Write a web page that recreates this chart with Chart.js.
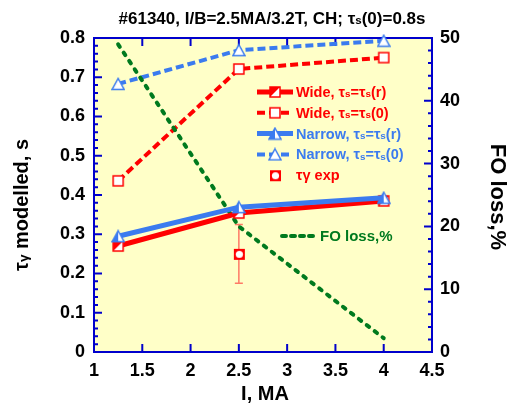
<!DOCTYPE html>
<html>
<head>
<meta charset="utf-8">
<script src="https://cdn.jsdelivr.net/npm/chart.js@4.4.1/dist/chart.umd.min.js"></script>
<style>
  html, body { margin: 0; padding: 0; background: #fff; }
  #wrap { width: 509px; height: 408px; }
</style>
</head>
<body>
<div id="wrap"><canvas id="chart" width="509" height="408"></canvas></div>
<script>
// data
const current = [1.25, 2.5, 4];
const wideR = [0.27, 0.354, 0.385];
const wide0 = [0.436, 0.721, 0.75];
const narrowR = [0.295, 0.369, 0.393];
const narrow0 = [0.683, 0.769, 0.793];
const foLoss = [49, 20, 2.2];
const expCurrent = [2.5];
const expTau = [0.25];
const expErr = [0.075];

const xTicks = [1, 1.5, 2, 2.5, 3, 3.5, 4, 4.5];
const yTicks = [0, 0.1, 0.2, 0.3, 0.4, 0.5, 0.6, 0.7, 0.8];
const y2Ticks = [0, 10, 20, 30, 40, 50];

const RED = "#ff0000";
const BLUE = "#3b7bef";
const GREEN = "#007a1e";
const AXIS = "#0000cc";
const BG = "#ffffc8";
const FONT = "'Liberation Sans', Arial, sans-serif";

// markers
function marker(kind, color) {
  const c = document.createElement("canvas");
  c.width = 14; c.height = 14;
  const g = c.getContext("2d");
  g.lineWidth = 1.5;
  g.strokeStyle = color;
  if (kind === "square" || kind === "halfsquare") {
    g.fillStyle = "#fff";
    g.fillRect(2, 2, 10, 10);
    if (kind === "halfsquare") {
      g.fillStyle = color;
      g.beginPath(); g.moveTo(2, 2); g.lineTo(12, 2); g.lineTo(2, 12); g.closePath(); g.fill();
    }
    g.strokeRect(2, 2, 10, 10);
  } else if (kind === "tri" || kind === "halftri") {
    g.fillStyle = "#fff";
    g.beginPath(); g.moveTo(7, 1.5); g.lineTo(13, 12.5); g.lineTo(1, 12.5); g.closePath(); g.fill();
    if (kind === "halftri") {
      g.fillStyle = color;
      g.beginPath(); g.moveTo(7, 1.5); g.lineTo(7, 12.5); g.lineTo(1, 12.5); g.closePath(); g.fill();
    }
    g.beginPath(); g.moveTo(7, 1.5); g.lineTo(13, 12.5); g.lineTo(1, 12.5); g.closePath(); g.stroke();
  } else if (kind === "exp") {
    g.fillStyle = color;
    g.fillRect(2, 2, 11, 11);
    g.fillStyle = "#fff";
    g.beginPath(); g.arc(7.5, 7.5, 3.6, 0, Math.PI * 2); g.fill();
  }
  return c;
}
const mWideR = marker("halfsquare", RED);
const mWide0 = marker("square", RED);
const mNarR = marker("halftri", BLUE);
const mNar0 = marker("tri", BLUE);
const mExp = marker("exp", RED);

function pts(xs, ys) { return xs.map((x, i) => ({ x: x, y: ys[i] })); }

// text with small "s"/"γ" parts
function richText(ctx, parts, x, y, size, align) {
  let w = 0;
  parts.forEach(p => {
    ctx.font = "bold " + (p.sub ? size * 0.68 : size) + "px " + FONT;
    p.w = ctx.measureText(p.t).width; w += p.w;
  });
  let cx = align === "center" ? x - w / 2 : x;
  parts.forEach(p => {
    ctx.font = "bold " + (p.sub ? size * 0.68 : size) + "px " + FONT;
    ctx.fillText(p.t, cx, y + (p.sub ? size * 0.12 : 0));
    cx += p.w;
  });
}

const legendRows = [
  { parts: [{ t: "Wide, τ" }, { t: "s", sub: 1 }, { t: "=τ" }, { t: "s", sub: 1 }, { t: "(r)" }], color: RED, dash: [], m: mWideR },
  { parts: [{ t: "Wide, τ" }, { t: "s", sub: 1 }, { t: "=τ" }, { t: "s", sub: 1 }, { t: "(0)" }], color: RED, dash: [8, 4], m: mWide0 },
  { parts: [{ t: "Narrow, τ" }, { t: "s", sub: 1 }, { t: "=τ" }, { t: "s", sub: 1 }, { t: "(r)" }], color: BLUE, dash: [], m: mNarR },
  { parts: [{ t: "Narrow, τ" }, { t: "s", sub: 1 }, { t: "=τ" }, { t: "s", sub: 1 }, { t: "(0)" }], color: BLUE, dash: [8, 4], m: mNar0 },
  { parts: [{ t: "τγ exp" }], color: RED, dash: null, m: mExp }
];

const decor = {
  id: "decor",
  beforeDraw(chart) {
    const { ctx, chartArea: a } = chart;
    ctx.save();
    ctx.fillStyle = BG;
    ctx.fillRect(a.left, a.top, a.right - a.left, a.bottom - a.top);
    ctx.restore();
  },
  beforeDatasetsDraw(chart) {
    const { ctx, chartArea: a, scales } = chart;
    const x = scales.x, y = scales.y, y2 = scales.y2;
    ctx.save();
    // frame
    ctx.strokeStyle = AXIS;
    ctx.lineWidth = 2;
    ctx.strokeRect(a.left, a.top, a.right - a.left, a.bottom - a.top);
    ctx.beginPath();
    xTicks.forEach(v => {
      const px = x.getPixelForValue(v);
      ctx.moveTo(px, a.bottom); ctx.lineTo(px, a.bottom - 8);
      ctx.moveTo(px, a.top); ctx.lineTo(px, a.top + 8);
    });
    for (let i = 0; i < yTicks.length; i++) {
      const py = y.getPixelForValue(yTicks[i]);
      ctx.moveTo(a.left, py); ctx.lineTo(a.left + 8, py);
      if (i < yTicks.length - 1) {
        const step = (yTicks[i + 1] - yTicks[i]) / 5;
        for (let k = 1; k < 5; k++) {
          const my = y.getPixelForValue(yTicks[i] + step * k);
          ctx.moveTo(a.left, my); ctx.lineTo(a.left + 4, my);
        }
      }
    }
    for (let i = 0; i < y2Ticks.length; i++) {
      const py = y2.getPixelForValue(y2Ticks[i]);
      ctx.moveTo(a.right, py); ctx.lineTo(a.right - 8, py);
      if (i < y2Ticks.length - 1) {
        const step = (y2Ticks[i + 1] - y2Ticks[i]) / 5;
        for (let k = 1; k < 5; k++) {
          const my = y2.getPixelForValue(y2Ticks[i] + step * k);
          ctx.moveTo(a.right, my); ctx.lineTo(a.right - 4, my);
        }
      }
    }
    ctx.stroke();

    // error bar of the experimental point
    ctx.strokeStyle = "#ff7a66";
    ctx.lineWidth = 1.5;
    ctx.beginPath();
    expCurrent.forEach((v, i) => {
      const px = x.getPixelForValue(v);
      const top = y.getPixelForValue(expTau[i] + expErr[i]);
      const bot = y.getPixelForValue(expTau[i] - expErr[i]);
      ctx.moveTo(px, top); ctx.lineTo(px, bot);
      ctx.moveTo(px - 4, top); ctx.lineTo(px + 4, top);
      ctx.moveTo(px - 4, bot); ctx.lineTo(px + 4, bot);
    });
    ctx.stroke();
    ctx.restore();
  },
  afterDraw(chart) {
    const { ctx, chartArea: a, scales } = chart;
    const x = scales.x, y = scales.y, y2 = scales.y2;
    ctx.save();
    ctx.fillStyle = "#000";
    ctx.textBaseline = "middle";
    ctx.font = "bold 18px " + FONT;
    ctx.textAlign = "right";
    yTicks.forEach(v => ctx.fillText(String(v), a.left - 9, y.getPixelForValue(v)));
    ctx.textAlign = "left";
    y2Ticks.forEach(v => ctx.fillText(String(v), a.right + 8, y2.getPixelForValue(v)));
    ctx.textAlign = "center";
    xTicks.forEach(v => ctx.fillText(String(v), x.getPixelForValue(v), a.bottom + 19));

    // title
    ctx.textAlign = "left";
    richText(ctx, [{ t: "#61340, I/B=2.5MA/3.2T, CH; τ" }, { t: "s", sub: 1 }, { t: "(0)=0.8s" }], 272, 19, 17, "center");

    // axis titles
    ctx.font = "bold 20px " + FONT;
    ctx.textAlign = "center";
    ctx.fillText("I, MA", 265, 394);
    ctx.save();
    ctx.translate(22, 205);
    ctx.rotate(-Math.PI / 2);
    ctx.textAlign = "left";
    richText(ctx, [{ t: "τ" }, { t: "γ", sub: 1 }, { t: " modelled, s" }], 0, 0, 20, "center");
    ctx.restore();
    ctx.save();
    ctx.translate(497, 197);
    ctx.rotate(Math.PI / 2);
    ctx.font = "bold 22px " + FONT;
    ctx.textAlign = "center";
    ctx.fillText("FO loss,%", 0, 0);
    ctx.restore();

    // legend
    const lx = 257, lw = 36;
    legendRows.forEach((r, i) => {
      const ly = 92 + i * 20.8;
      if (r.dash) {
        ctx.strokeStyle = r.color;
        ctx.lineWidth = r.dash.length ? 4 : 5;
        ctx.setLineDash(r.dash);
        ctx.beginPath(); ctx.moveTo(lx, ly); ctx.lineTo(lx + lw, ly); ctx.stroke();
        ctx.setLineDash([]);
      }
      ctx.drawImage(r.m, lx + lw / 2 - 7, ly - 7);
      ctx.fillStyle = r.color;
      ctx.textAlign = "left";
      richText(ctx, r.parts, lx + lw + 3, ly + 1, 14.5, "left");
    });
    ctx.strokeStyle = GREEN;
    ctx.lineWidth = 4;
    ctx.lineCap = "round";
    ctx.setLineDash([4, 5]);
    ctx.beginPath(); ctx.moveTo(282, 236); ctx.lineTo(316, 236); ctx.stroke();
    ctx.setLineDash([]);
    ctx.fillStyle = GREEN;
    ctx.font = "bold 15px " + FONT;
    ctx.fillText("FO loss,%", 320, 237);
    ctx.restore();
  }
};

new Chart(document.getElementById("chart").getContext("2d"), {
  type: "line",
  data: {
    datasets: [
      { data: pts(expCurrent, expTau), showLine: false, pointStyle: mExp, yAxisID: "y", order: 0 },
      { data: pts(current, narrowR), borderColor: BLUE, borderWidth: 5, pointStyle: mNarR, yAxisID: "y", order: 1 },
      { data: pts(current, wideR), borderColor: RED, borderWidth: 5, pointStyle: mWideR, yAxisID: "y", order: 2 },
      { data: pts(current, foLoss), borderColor: GREEN, borderWidth: 4, borderDash: [3, 7], borderCapStyle: "round", pointRadius: 0, yAxisID: "y2", order: 3 },
      { data: pts(current, narrow0), borderColor: BLUE, borderWidth: 4, borderDash: [8, 4], pointStyle: mNar0, yAxisID: "y", order: 4 },
      { data: pts(current, wide0), borderColor: RED, borderWidth: 4, borderDash: [8, 4], pointStyle: mWide0, yAxisID: "y", order: 5 }
    ]
  },
  options: {
    responsive: false,
    animation: false,
    devicePixelRatio: 1,
    layout: { padding: { left: 94, right: 77, top: 38, bottom: 56 } },
    elements: { line: { tension: 0, fill: false }, point: { radius: 6 } },
    datasets: { line: { clip: false } },
    plugins: { legend: { display: false }, tooltip: { enabled: false }, title: { display: false } },
    scales: {
      x: { type: "linear", min: 1, max: 4.5, display: false },
      y: { min: 0, max: 0.8, display: false },
      y2: { min: 0, max: 50, display: false }
    }
  },
  plugins: [decor]
});
</script>
</body>
</html>
